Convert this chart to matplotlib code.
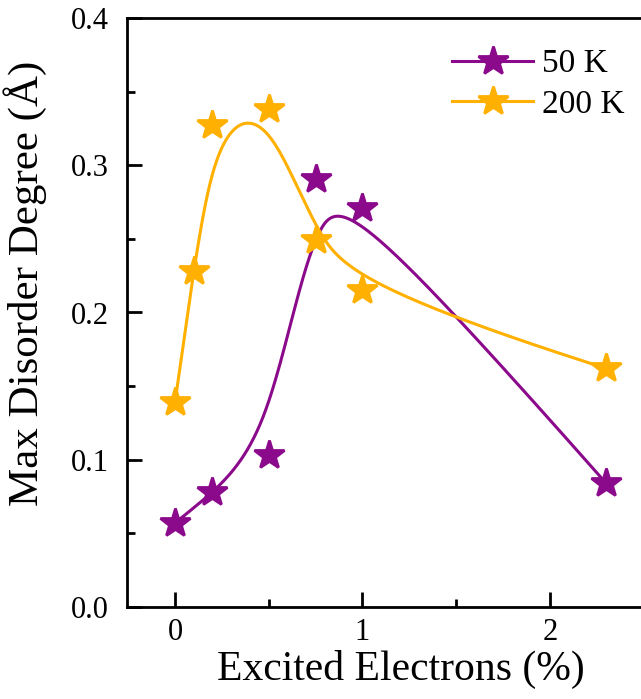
import numpy as np
import matplotlib
matplotlib.use("Agg")
import matplotlib.pyplot as plt
from matplotlib.ticker import MultipleLocator, FormatStrFormatter

# data
x_50k = [0.0, 0.2, 0.5, 0.75, 1.0, 2.3]
y_50k = [0.057, 0.078, 0.103, 0.291, 0.271, 0.084]
x_200k = [0.0, 0.1, 0.2, 0.5, 0.75, 1.0, 2.3]
y_200k = [0.139, 0.228, 0.327, 0.338, 0.249, 0.215, 0.162]
labels = ["50 K", "200 K"]
colors = ["#8B0A8B", "#FFB000"]


def bspline(xs, ys, k=3, n=400):
    """clamped uniform B-spline using the points as control polygon"""
    P = np.column_stack([xs, ys])
    m = len(P)
    knots = np.concatenate([np.zeros(k), np.arange(m - k + 1), np.full(k, m - k)]).astype(float)
    ts = np.linspace(0, m - k, n)
    ts[-1] -= 1e-9

    def basis(i, d, t):
        if d == 0:
            return 1.0 if knots[i] <= t < knots[i + 1] else 0.0
        a = b = 0.0
        if knots[i + d] != knots[i]:
            a = (t - knots[i]) / (knots[i + d] - knots[i]) * basis(i, d - 1, t)
        if knots[i + d + 1] != knots[i + 1]:
            b = (knots[i + d + 1] - t) / (knots[i + d + 1] - knots[i + 1]) * basis(i + 1, d - 1, t)
        return a + b

    out = np.array([sum(basis(i, k, t) * P[i] for i in range(m)) for t in ts])
    return out[:, 0], out[:, 1]


plt.rcParams["font.family"] = ["Liberation Serif", "DejaVu Serif"]

fig = plt.figure(figsize=(6.41, 6.99), dpi=100)
# axes runs past the right edge of the picture (right spine is cut off)
ax = fig.add_axes([127 / 641, 1 - 607 / 699, (675 - 127) / 641, (607 - 18) / 699])

for xs, ys, c, lab in [(x_50k, y_50k, colors[0], labels[0]),
                       (x_200k, y_200k, colors[1], labels[1])]:
    sx, sy = bspline(xs, ys)
    ax.plot(sx, sy, color=c, lw=2.2, zorder=2)
    ax.plot(xs, ys, ls="none", marker="*", ms=22, color=c, mec=c, mew=2,
            zorder=3)
    ax.plot([], [], color=c, lw=2.2, marker="*", ms=22, mec=c, mew=2, label=lab)

ax.set_xlim(-0.256, 2.667)
ax.set_ylim(0, 0.4)
ax.xaxis.set_major_locator(MultipleLocator(1))
ax.xaxis.set_minor_locator(MultipleLocator(0.5))
ax.yaxis.set_major_locator(MultipleLocator(0.1))
ax.yaxis.set_minor_locator(MultipleLocator(0.05))
ax.yaxis.set_major_formatter(FormatStrFormatter("%.1f"))
ax.tick_params(which="major", direction="in", length=11, width=2, labelsize=22)
ax.tick_params(axis="y", pad=13)
ax.tick_params(axis="x", pad=8)
ax.tick_params(which="minor", direction="in", length=6, width=2)
ax.tick_params(top=False, right=False)
for s in ax.spines.values():
    s.set_linewidth(2)
ax.spines["right"].set_visible(False)

ax.set_xlabel("Excited Electrons (%)", fontsize=30, labelpad=2)
ax.set_ylabel("Max Disorder Degree (Å)", fontsize=31)
ax.yaxis.set_label_coords(-0.146, 0.55)

fig.legend(loc="upper left", bbox_to_anchor=(452 / 641, 1 - 49 / 699), frameon=False,
           fontsize=24, handlelength=2.43, handletextpad=0.28, labelspacing=0.3,
           borderpad=0, borderaxespad=0)

fig.savefig("out.png", dpi=100)
